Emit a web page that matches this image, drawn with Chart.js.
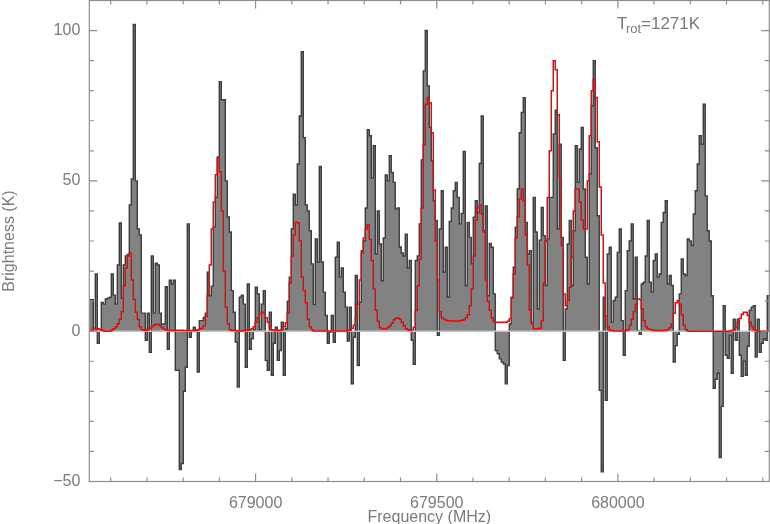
<!DOCTYPE html>
<html lang="en">
  <head>
    <meta charset="UTF-8" />
    <title>Spectrum with rotational model</title>
    <script src="https://cdn.jsdelivr.net/npm/chart.js@4.4.0/dist/chart.umd.min.js"></script>
    <style>
      html, body { margin: 0; padding: 0; background: #ffffff; }
      #wrap { width: 770px; height: 524px; }
    </style>
  </head>
  <body>
    <div id="wrap"><canvas id="spectrum" width="770" height="524"></canvas></div>

    <script>
      // Frequency axis (MHz): first channel edge, channel width, plotted range
      const freqStart = 678541;
      const chanWidth = 5.52;
      const freqMin = 678541;
      const freqMax = 680418;

      // Observed brightness per channel (K)
      const brightness = [
        10.5, 10.5, 1, 19, -4, 0, 9.6, 9, 10.7, 11,
        11.3, 19, 12, 9, 22, 36, 11, 22, 25, 25.5,
        42, 50.6, 102, 50, 34, 32, 6, 6, -3, 6,
        -7, 25, 6, 22.6, 22, 6, 2.4, 2.4, 14.8, -6,
        17, 15.7, 17, -13, -13, -46, -44, -20, -12, 35.7,
        -2, 0, 1.3, 0, -13.6, 3.5, 3.5, 4.6, 6, 19.6,
        11.8, 15, 34.6, 44.5, 58, 83, 77, 77, 50, 38,
        33, 13.5, 6.3, -3.6, -18.6, 11.3, 12, 9, -12, 15.7,
        -6, -2.5, 0.5, 14.6, 12.4, 0.5, 9, 13.5, -9.7, -13,
        6.3, -14.7, -4, 1.3, -9.7, -6.4, 3, -14.7, 0.8, 10,
        18, 34, 45.6, 42, 55.6, 71.6, 93, 64.4, 42, 40,
        33.4, 22.4, 8.9, 30.7, 23, 54.8, 23, 13, 5.2, -4,
        -0.3, 5.2, -3.7, 24.6, 29.6, 18, 21, 13, 8, -3.3,
        8, -17.5, -2, 18.5, -11.4, 9.6, 26.8, 30, 41, 67,
        65, 51, 61.7, 25.7, 40, 29, 16.8, 31, 52, 50,
        58.4, 52.8, 49.5, 40.6, 41, 28, 26, 25, 32.3, 21,
        23.5, -3, -11, 23.5, 25, 35.7, 57, 86.6, 100, 81.6,
        67.8, 56.7, 43.4, 36.8, -1.4, 34, 46.7, 19.6, 27.9, 11.3,
        36.5, 41, 46.7, 49.5, 44.5, 35.7, 39.2, 59.8, 15.2, 36.2,
        31.2, 22.4, 37.9, 43.4, 39.5, 55.8, 71.6, 33.4, 41.7, 11.8,
        29.2, 27.9, 12.4, -6.4, -7.5, -9.2, -10.3, -10.9, -17.5, -11.4,
        2.4, 11.3, 21.3, 34.6, 47.3, 66, 72.8, 77.7, 36.2, 25.7,
        26.8, 3, 44.5, 33, 7.4, 30.3, 41.2, 31.8, 15.2, 30.7,
        44.5, 44.5, 65.6, 73.5, 34, 62.2, 31.2, -9.7, 7.4, 29,
        36.8, 15.2, 33.4, 61.7, 49.5, 60.6, 67.8, 47.3, 24.6, 15.7,
        52.3, 75, 90, 61, 38.4, -19.7, -46.8, 11.3, -23, 25.7,
        27.9, 3, 10.2, 11.3, 26.2, 34, 3.5, -8, 13.5, 26.8,
        30, 35.7, 10.7, 24.6, 0.2, -1, 15.7, 16.3, 25, 36.8,
        16.3, 13, 23.5, 25.7, 18, 19, 36.2, 39.5, 43.4, 15.7,
        18.5, 15.2, -10.3, -4.8, -1, 12.4, 24, 19, 18.5, 30.7,
        30, 28.5, 39, 46.7, 55.6, 65, 62.2, 75.5, 45, 33.4,
        30, 11.8, -19, -16, -14, -42, -25, 8.5, -8, -9,
        -1.4, -14, 4, -3, 4, -8, -15, -10, -14.7, -5,
        7, 8, 8.5, -8.6, 4, -7, -4, -2.5, -3, 11.8,
      ];

      // Model spectrum for T_rot = 1271 K, same channels (K)
      const model = [
        0.2, 0.4, 0.7, 0.9, 0.8, 0.6, 0.3, 0.1, 0, 0,
        0.1, 0.4, 0.8, 1.5, 2.5, 4, 6.5, 15, 21, 25,
        26, 17, 10.5, 6.3, 4, 1.5, 0.5, 0.3, 0.3, 0.6,
        1, 1.5, 2, 2.3, 2.2, 1.8, 1.2, 0.7, 0.4, 0.3,
        0.2, 0.2, 0.2, 0.3, 0.3, 0.3, 0.3, 0.2, 0.2, 0.2,
        0.2, 0.2, 0.2, 0.3, 0.5, 0.8, 1, 1.8, 5, 12,
        22, 34, 43, 52, 57.5, 53, 40, 20, 8, 2.5,
        0.5, 0.2, 0.2, 0.2, 0.1, 0.1, 0.1, 0.2, 0.3, 0.4,
        0.5, 0.8, 1.5, 3, 4.5, 5.8, 6.3, 6, 4.5, 3,
        1.5, 0.5, 0.2, 0.2, 0.2, 0.3, 0.5, 1.5, 2.8, 6,
        16, 25, 32, 36.2, 36, 30, 18, 13.5, 9.5, 4,
        1.5, 0.5, 0.1, 0.1, 0.1, 0.1, 0.1, 0.1, 0.1, 0.1,
        0.1, 0.1, 0.1, 0.1, 0.1, 0.1, 0.1, 0.1, 0.1, 0.2,
        0.4, 1, 2, 4.5, 9, 17, 26, 31, 34, 35.4,
        30.5, 23.5, 14, 7, 3.3, 1.2, 0.8, 0.8, 0.8, 1.2,
        1.8, 2.6, 3.8, 4.3, 4.4, 4, 3, 1.8, 0.8, 0.5,
        0.3, 0.5, 1.3, 6.9, 15, 24, 41, 62, 75.5, 77.7,
        76, 66, 47, 30, 17, 6.5, 4.5, 4, 3.6, 3.5,
        3.5, 3.4, 3.4, 3.4, 3.4, 3.5, 3.6, 3.8, 4.5, 5.5,
        8.5, 14, 25, 37, 41, 42, 39, 33, 17, 10,
        7, 4.5, 3.2, 3, 3, 3, 3, 3, 3, 3.3,
        4.2, 11, 19, 31, 38, 44, 47.3, 43.4, 32, 22,
        7, 2.5, 0.8, 0.8, 0.8, 1, 3.5, 16, 30, 44.5,
        60, 80, 90, 87, 72, 51, 28.5, 12.4, 8.5, 10.2,
        14.6, 24.6, 40, 47.3, 47.3, 43, 37, 34, 34, 50,
        65, 80, 83.8, 77.7, 63, 48, 32, 16, 5, 1.5,
        0.3, 0.2, 0.1, 0.1, 0.1, 0.1, 0.1, 0.1, 0.2, 0.5,
        2, 4, 6.5, 9, 10.7, 10.5, 7.5, 3.5, 1.5, 0.8,
        0.6, 0.4, 0.3, 0.2, 0.2, 0.2, 0.2, 0.2, 0.3, 0.6,
        1.2, 2.5, 6, 9.5, 10.2, 9, 5.5, 2, 0.5, 0.1,
        0, 0, 0, 0, 0, 0, 0, 0, 0, 0,
        0, 0, 0, 0, 0, 0, 0, 0, 0, 0,
        0.1, 0.2, 0.5, 1.2, 2.8, 4.3, 5.6, 6.3, 6.3, 5.2,
        3, 1.6, 0.5, 0.2, 0, 0, 0, 0, 0, 0,
      ];

      // Axis ticks
      const xTickLabels = [679000, 679500, 680000];
      const yTickLabels = [-50, 0, 50, 100];
      const yMin = -50;
      const yMax = 110;

      const textGray = "#7b7b7b";
      const axisGray = "#8e8e8e";
      const font = { family: "'Liberation Sans', Arial, sans-serif", size: 16 };

      // channel left edges, plus a closing point at the last right edge
      function stepPoints(vals) {
        const pts = vals.map((v, i) => ({ x: freqStart + i * chanWidth, y: v }));
        pts.push({ x: freqStart + vals.length * chanWidth, y: vals[vals.length - 1] });
        return pts;
      }

      // PGPLOT-like frame: box, inward ticks on all sides, zero line, T_rot label
      const framePlugin = {
        id: "frame",
        afterDatasetDraw(chart, args) {
          if (args.index !== 0) return;
          const { ctx, chartArea: a, scales } = chart;
          const y0 = scales.y.getPixelForValue(0);
          ctx.save();
          ctx.strokeStyle = "#c3c3c3";
          ctx.lineWidth = 1.5;
          ctx.beginPath();
          ctx.moveTo(a.left, y0);
          ctx.lineTo(a.right, y0);
          ctx.stroke();
          ctx.restore();
        },
        afterDraw(chart) {
          const { ctx, chartArea: a, scales } = chart;
          const x = scales.x;
          const y = scales.y;
          ctx.save();
          ctx.strokeStyle = axisGray;
          ctx.lineWidth = 1.2;
          ctx.strokeRect(a.left, a.top, a.right - a.left, a.bottom - a.top);

          ctx.beginPath();
          for (let f = 678600; f <= freqMax; f += 100) {
            const px = x.getPixelForValue(f);
            const len = f % 500 === 0 ? 8 : 4;
            ctx.moveTo(px, a.bottom);
            ctx.lineTo(px, a.bottom - len);
            ctx.moveTo(px, a.top);
            ctx.lineTo(px, a.top + len);
          }
          for (let v = yMin; v <= yMax; v += 10) {
            const py = y.getPixelForValue(v);
            const len = v % 50 === 0 ? 8 : 4.5;
            ctx.moveTo(a.left, py);
            ctx.lineTo(a.left + len, py);
            ctx.moveTo(a.right, py);
            ctx.lineTo(a.right - len, py);
          }
          ctx.stroke();

          ctx.fillStyle = textGray;
          ctx.textBaseline = "alphabetic";
          ctx.textAlign = "left";
          ctx.font = "17px 'Liberation Sans', Arial, sans-serif";
          ctx.fillText("T", 617, 28.5);
          ctx.font = "13px 'Liberation Sans', Arial, sans-serif";
          ctx.fillText("rot", 626, 32.5);
          ctx.font = "17px 'Liberation Sans', Arial, sans-serif";
          ctx.fillText("=1271K", 641, 28.5);
          ctx.restore();
        },
      };

      new Chart(document.getElementById("spectrum"), {
        type: "line",
        data: {
          datasets: [
            {
              label: "Observed",
              data: stepPoints(brightness),
              stepped: true,
              borderColor: "#3d3d3d",
              borderWidth: 1.4,
              backgroundColor: "#828282",
              fill: "origin",
              pointRadius: 0,
              order: 2,
            },
            {
              label: "Model",
              data: stepPoints(model),
              stepped: true,
              borderColor: "#ff0000",
              borderWidth: 1.5,
              fill: false,
              pointRadius: 0,
              order: 1,
            },
          ],
        },
        options: {
          responsive: false,
          animation: false,
          devicePixelRatio: 1,
          parsing: false,
          layout: { padding: { top: 0.5, right: 0.7, left: 0, bottom: 0 } },
          plugins: {
            legend: { display: false },
            tooltip: { enabled: false },
          },
          scales: {
            x: {
              type: "linear",
              min: freqMin,
              max: freqMax,
              grid: { display: false, drawTicks: false },
              border: { display: false },
              ticks: {
                font: font,
                color: textGray,
                padding: 12,
                maxRotation: 0,
                autoSkip: false,
                callback: (v) => String(v),
              },
              afterBuildTicks: (s) => {
                s.ticks = xTickLabels.map((v) => ({ value: v }));
              },
              afterFit: (s) => {
                s.height = 42.5;
                s.paddingLeft = 0;
                s.paddingRight = 0;
              },
              title: {
                display: true,
                text: "Frequency (MHz)",
                font: font,
                color: textGray,
                padding: { top: 0, bottom: -3 },
              },
            },
            y: {
              type: "linear",
              min: yMin,
              max: yMax,
              grid: { display: false, drawTicks: false },
              border: { display: false },
              ticks: {
                font: font,
                color: textGray,
                padding: 9,
                callback: (v) => (v < 0 ? "\u2212" + Math.abs(v) : String(v)),
              },
              afterBuildTicks: (s) => {
                s.ticks = yTickLabels.map((v) => ({ value: v }));
              },
              afterFit: (s) => {
                s.width = 89.3;
                s.paddingTop = 0;
                s.paddingBottom = 0;
              },
              title: {
                display: true,
                text: "Brightness (K)",
                font: font,
                color: textGray,
                padding: { top: 0, bottom: 0 },
              },
            },
          },
        },
        plugins: [framePlugin],
      });
    </script>
  </body>
</html>
